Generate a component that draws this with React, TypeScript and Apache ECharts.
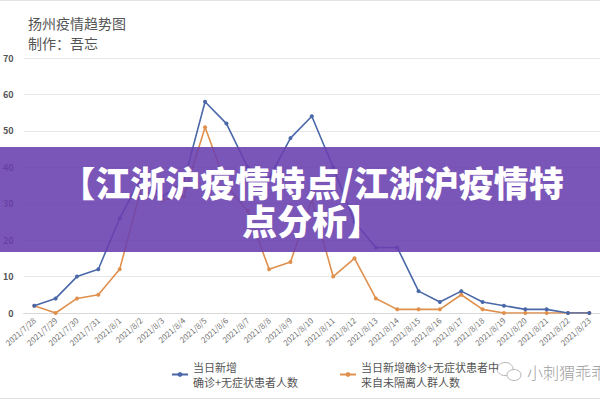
import React, { useEffect, useRef } from "react";
import * as echarts from "echarts";

const categories = [
  "2021/7/28", "2021/7/29", "2021/7/30", "2021/7/31", "2021/8/1", "2021/8/2", "2021/8/3",
  "2021/8/4", "2021/8/5", "2021/8/6", "2021/8/7", "2021/8/8", "2021/8/9", "2021/8/10",
  "2021/8/11", "2021/8/12", "2021/8/13", "2021/8/14", "2021/8/15", "2021/8/16", "2021/8/17",
  "2021/8/18", "2021/8/19", "2021/8/20", "2021/8/21", "2021/8/22", "2021/8/23",
];
const totalNew = [2, 4, 10, 12, 26, 37, 32, 36, 58, 52, 40, 37, 48, 54, 40, 25, 18, 18, 6, 3, 6, 3, 2, 1, 1, 0, 0];
const fromNonIsolated = [2, 0, 4, 5, 12, 34, 31, 32, 51, 35, 28, 12, 14, 31, 10, 15, 4, 1, 1, 1, 5, 1, 0, 0, 0, 0, 0];
const seriesNames = ["当日新增\n确诊+无症状患者人数", "当日新增确诊+无症状患者中\n来自未隔离人群人数"];
const titleText = "扬州疫情趋势图";
const subtitleText = "制作：吾忘";
const bannerText = "【江浙沪疫情特点/江浙沪疫情特\n点分析】";
const watermark = "小刺猬乖乖";

const FONT = "'Noto Sans CJK SC', 'Noto Sans', sans-serif";

export default function App() {
  const ref = useRef<HTMLDivElement>(null);
  useEffect(() => {
    if (!ref.current) return;
    const chart = echarts.init(ref.current, undefined, { renderer: "svg" });
    const legendText = {
      fontSize: 11,
      color: "#555",
      lineHeight: 15,
      padding: [15, 0, 0, 0],
      fontFamily: FONT,
    };
    chart.setOption({
      animation: false,
      backgroundColor: "#fff",
      textStyle: { fontFamily: FONT },
      grid: { left: 23, top: 58, width: 602, height: 255, containLabel: false },
      legend: [
        {
          data: [seriesNames[0]],
          left: 171,
          top: 352,
          padding: 0,
          itemWidth: 16,
          itemHeight: 6,
          itemGap: 4,
          textStyle: legendText,
        },
        {
          data: [seriesNames[1]],
          left: 339,
          top: 352,
          padding: 0,
          itemWidth: 16,
          itemHeight: 6,
          textStyle: legendText,
        },
      ],
      xAxis: {
        type: "category",
        data: categories,
        boundaryGap: true,
        axisLine: { lineStyle: { color: "#d9d9d9" } },
        axisTick: { show: false },
        axisLabel: {
          interval: 0,
          rotate: 42,
          fontSize: 8,
          color: "#6f6f6f",
          margin: 6,
          fontFamily: FONT,
        },
      },
      yAxis: {
        type: "value",
        min: 0,
        max: 70,
        interval: 10,
        axisLine: { show: false },
        axisTick: { show: false },
        splitLine: { lineStyle: { color: "#e6e6e6" } },
        axisLabel: { fontSize: 9, color: "#555", margin: 10, fontFamily: FONT, fontWeight: "bold" },
      },
      series: [
        {
          name: seriesNames[0],
          type: "line",
          data: totalNew,
          symbol: "circle",
          symbolSize: 4,
          itemStyle: { color: "#4a68a8" },
          lineStyle: { color: "#4a68a8", width: 1.6 },
          z: 3,
        },
        {
          name: seriesNames[1],
          type: "line",
          data: fromNonIsolated,
          symbol: "circle",
          symbolSize: 4,
          itemStyle: { color: "#e0904d" },
          lineStyle: { color: "#e0904d", width: 1.6 },
          z: 2,
        },
      ],
      graphic: [
        { type: "line", shape: { x1: 0, y1: 0.5, x2: 600, y2: 0.5 }, style: { stroke: "#e3e3e3", lineWidth: 1 } },
        { type: "line", shape: { x1: 0, y1: 398.5, x2: 600, y2: 398.5 }, style: { stroke: "#e3e3e3", lineWidth: 1 } },
        {
          type: "text",
          x: 28,
          y: 23,
          style: { text: titleText, fill: "#555", font: `14px ${FONT}`, textVerticalAlign: "middle" },
        },
        {
          type: "text",
          x: 28,
          y: 43,
          style: { text: subtitleText, fill: "#555", font: `14px ${FONT}`, textVerticalAlign: "middle" },
        },
        {
          type: "rect",
          z: 100,
          shape: { x: 0, y: 147, width: 600, height: 105 },
          style: { fill: "rgba(105,63,175,0.88)" },
        },
        {
          type: "text",
          z: 101,
          x: 312,
          y: 200,
          style: {
            text: bannerText,
            fill: "#fff",
            font: `900 35px ${FONT}`,
            lineHeight: 38,
            textAlign: "center",
            textVerticalAlign: "middle",
          },
        },
        {
          type: "ellipse",
          shape: { cx: 505, cy: 369, rx: 8, ry: 6.5 },
          style: { fill: "none", stroke: "#b5b5b5", lineWidth: 1 },
        },
        {
          type: "ellipse",
          shape: { cx: 514, cy: 375, rx: 7, ry: 5.5 },
          style: { fill: "#fff", stroke: "#b5b5b5", lineWidth: 1 },
        },
        {
          type: "text",
          x: 527,
          y: 372,
          style: { text: watermark, fill: "#a0a0a0", font: `300 16px ${FONT}`, textVerticalAlign: "middle" },
        },
      ],
    });
    return () => chart.dispose();
  }, []);
  return <div ref={ref} style={{ position: "absolute", left: 0, top: 0, width: 600, height: 400 }} />;
}
